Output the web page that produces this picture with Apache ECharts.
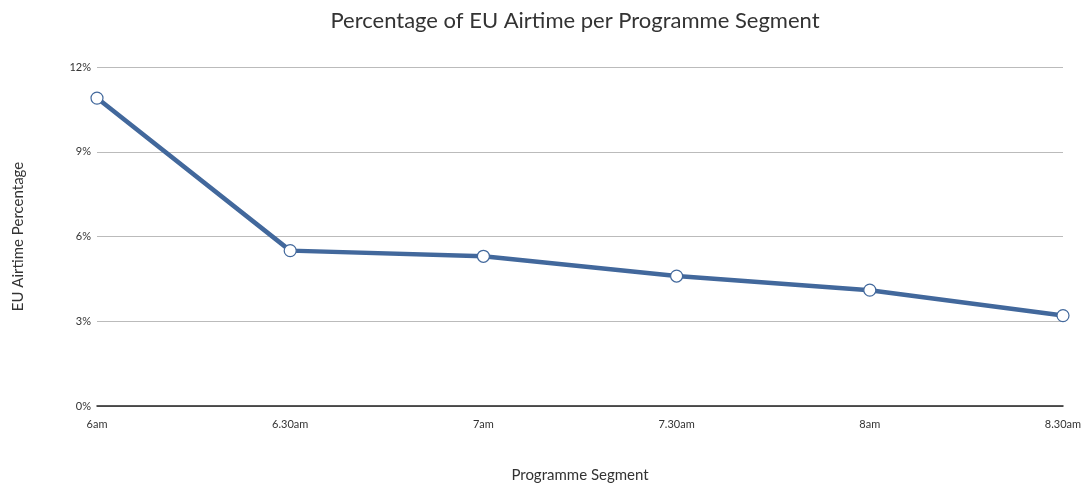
<!DOCTYPE html>
<html>
<head>
<meta charset="utf-8">
<script src="https://cdn.jsdelivr.net/npm/echarts@6/dist/echarts.min.js"></script>
<style>
  html, body { margin: 0; padding: 0; background: #fff; }
  #chart { width: 1086px; height: 487px; }
</style>
</head>
<body>
<div id="chart"></div>
<script>
// Programme segments and share of airtime spent on EU topics (%)
const segments = ['6am', '6.30am', '7am', '7.30am', '8am', '8.30am'];
const euShare = [10.9, 5.5, 5.3, 4.6, 4.1, 3.2];
const yTicks = [0, 3, 6, 9, 12];

const FONT = 'Lato, "Open Sans", sans-serif';
const chart = echarts.init(document.getElementById('chart'));

chart.setOption({
  animation: false,
  backgroundColor: '#ffffff',
  title: {
    text: 'Percentage of EU Airtime per Programme Segment',
    left: 570, top: 5, textAlign: 'center',
    textStyle: { fontFamily: FONT, fontSize: 22, fontWeight: 'normal', color: '#333' }
  },
  grid: { left: 97, right: 23, top: 67, bottom: 81, containLabel: false, outerBoundsMode: 'none' },
  xAxis: {
    type: 'category',
    data: segments,
    boundaryGap: false,
    name: 'Programme Segment',
    nameLocation: 'middle',
    nameGap: 62,
    nameTextStyle: { fontFamily: FONT, fontSize: 15, color: '#333' },
    axisLine: { lineStyle: { color: '#222', width: 1.5 } },
    axisTick: { show: false },
    axisLabel: { fontFamily: FONT, fontSize: 11, color: '#333', margin: 13 },
    splitLine: { show: false }
  },
  yAxis: {
    type: 'value',
    min: yTicks[0], max: yTicks[yTicks.length - 1], interval: 3,
    name: 'EU Airtime Percentage',
    nameLocation: 'middle',
    nameGap: 71,
    nameTextStyle: { fontFamily: FONT, fontSize: 15, color: '#333' },
    axisLine: { show: false },
    axisTick: { show: false },
    axisLabel: { fontFamily: FONT, fontSize: 11, color: '#333', margin: 6, formatter: '{value}%' },
    splitLine: { lineStyle: { color: '#bbbbbb', width: 1 } }
  },
  series: [{
    type: 'line',
    data: euShare,
    symbol: 'circle',
    symbolSize: 12,
    lineStyle: { color: '#42689c', width: 4.5 },
    itemStyle: { color: '#ffffff', borderColor: '#42689c', borderWidth: 1.2 },
    z: 3
  }]
});
</script>
</body>
</html>
